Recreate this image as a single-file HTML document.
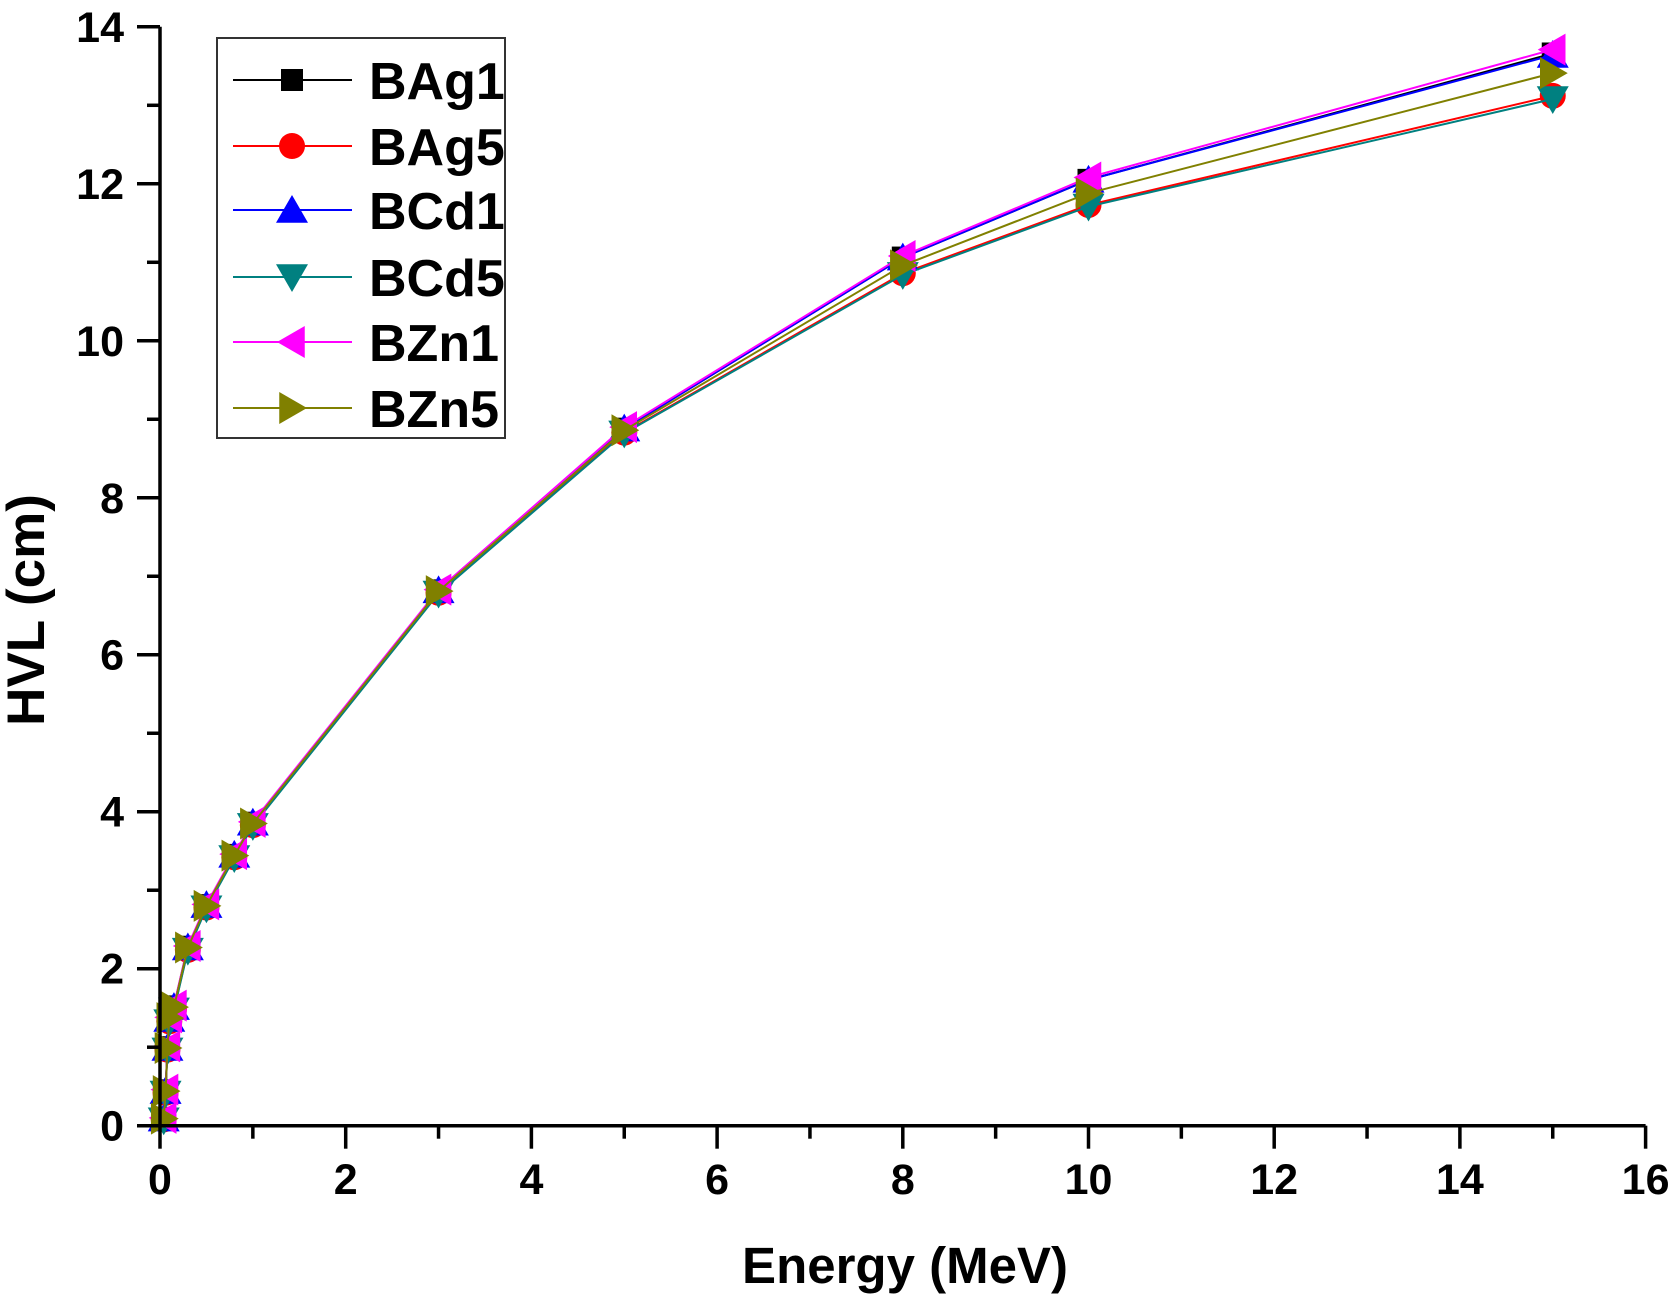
<!DOCTYPE html>
<html><head><meta charset="utf-8"><style>
html,body{margin:0;padding:0;background:#fff;}
svg{display:block;font-family:"Liberation Sans",Arial,sans-serif;font-weight:bold;}
</style></head><body>
<svg id="chart" width="1675" height="1297" viewBox="0 0 1675 1297"></svg>
<script>
const energies=[0.04,0.06,0.08,0.1,0.15,0.3,0.5,0.8,1,3,5,8,10,15];
const seriesNames=["BAg1","BAg5","BCd1","BCd5","BZn1","BZn5"];
const BAg1=[0.1,0.45,1.0,1.37,1.52,2.28,2.81,3.45,3.86,6.82,8.88,11.06,12.05,13.66];
const BAg5=[0.08,0.42,0.97,1.33,1.48,2.24,2.78,3.42,3.83,6.79,8.83,10.86,11.73,13.12];
const BCd1=[0.09,0.44,0.99,1.36,1.51,2.27,2.81,3.45,3.86,6.82,8.88,11.06,12.05,13.64];
const BCd5=[0.07,0.41,0.96,1.32,1.47,2.23,2.77,3.41,3.82,6.78,8.82,10.84,11.71,13.08];
const BZn1=[0.1,0.46,1.01,1.38,1.53,2.29,2.82,3.46,3.87,6.83,8.9,11.08,12.08,13.71];
const BZn5=[0.09,0.44,0.99,1.37,1.51,2.27,2.8,3.44,3.85,6.81,8.86,10.96,11.88,13.41];
const seriesData=[BAg1,BAg5,BCd1,BCd5,BZn1,BZn5];
const colors=["#000000","#ff0000","#0000ff","#008080","#ff00ff","#808000"];
const shapes=["square","circle","up","down","left","right"];
const xTicks=[0,2,4,6,8,10,12,14,16];
const yTicks=[0,2,4,6,8,10,12,14];

const NS="http://www.w3.org/2000/svg";
const svg=document.getElementById('chart');
const X0=160,X1=1645.6,Y0=1125.7,Y1=26.8;
const xS=v=>X0+(v-0)/(16-0)*(X1-X0);
const yS=v=>Y0-(v-0)/(14-0)*(Y0-Y1);
function mk(tag,attrs,parent){const e=document.createElementNS(NS,tag);for(const k in attrs)e.setAttribute(k,attrs[k]);(parent||svg).appendChild(e);return e;}
function marker(shape,cx,cy,color,g){
  const s=15;let e;
  if(shape==="square")e=mk('rect',{x:cx-11,y:cy-11,width:22,height:22,fill:color},g);
  else if(shape==="circle")e=mk('circle',{cx:cx,cy:cy,r:13,fill:color},g);
  else{let p;
    if(shape==="up")p=[[cx,cy-s],[cx-s-1,cy+s*0.85],[cx+s+1,cy+s*0.85]];
    if(shape==="down")p=[[cx,cy+s],[cx-s-1,cy-s*0.85],[cx+s+1,cy-s*0.85]];
    if(shape==="left")p=[[cx-s,cy],[cx+s*0.85,cy-s-1],[cx+s*0.85,cy+s+1]];
    if(shape==="right")p=[[cx+s,cy],[cx-s*0.85,cy-s-1],[cx-s*0.85,cy+s+1]];
    e=mk('polygon',{points:p.map(q=>q.join(',')).join(' '),fill:color},g);}
  return e;
}
seriesData.forEach((d,i)=>{
  const g=mk('g',{});
  
  
  const pl=mk('polyline',{points:energies.map((e,j)=>xS(e)+','+yS(d[j])).join(' '),fill:'none',stroke:colors[i],'stroke-width':2},g);
  
  
  energies.forEach((e,j)=>{
    const m=marker(shapes[i],xS(e),yS(d[j]),colors[i],g);
    
    
  });
});
const ax=mk('g',{stroke:'#000','stroke-width':3.5,fill:'none'});


mk('line',{x1:X0,y1:Y0,x2:X1,y2:Y0},ax);
mk('line',{x1:X0,y1:Y0+1.5,x2:X0,y2:Y1},ax);
for(let v=0;v<=16;v++){const major=v%2===0;mk('line',{x1:xS(v),y1:Y0,x2:xS(v),y2:Y0+(major?23:13)},ax);}
for(let v=0;v<=14;v++){const major=v%2===0;mk('line',{x1:X0,y1:yS(v),x2:X0-(major?23:13),y2:yS(v)},ax);}
xTicks.forEach(v=>{const t=mk('text',{x:xS(v),y:1194,'font-size':43,'text-anchor':'middle',fill:'#000'});t.textContent=v;
  
  });
yTicks.forEach(v=>{const t=mk('text',{x:124,y:yS(v)+15,'font-size':43,'text-anchor':'end',fill:'#000'});t.textContent=v;
  
  });
const xt=mk('text',{x:905,y:1283,'font-size':51,'text-anchor':'middle',fill:'#000'});xt.textContent='Energy (MeV)';


const yt=mk('text',{x:0,y:0,'font-size':53,'text-anchor':'middle',fill:'#000',transform:'translate(44,610) rotate(-90)'});yt.textContent='HVL (cm)';


const lg=mk('g',{});


mk('rect',{x:217,y:38,width:288,height:400,fill:'#fff',stroke:'#333','stroke-width':2},lg);
const rowY=[80,146,210,277,342,408];
seriesNames.forEach((n,i)=>{
  const e=mk('g',{},lg);
  
  
  mk('line',{x1:233,y1:rowY[i],x2:352,y2:rowY[i],stroke:colors[i],'stroke-width':2},e);
  marker(shapes[i],292,rowY[i],colors[i],e);
  const t=mk('text',{x:369,y:rowY[i]+19,'font-size':52,fill:'#000'},e);t.textContent=n;
});
</script>
</body></html>
